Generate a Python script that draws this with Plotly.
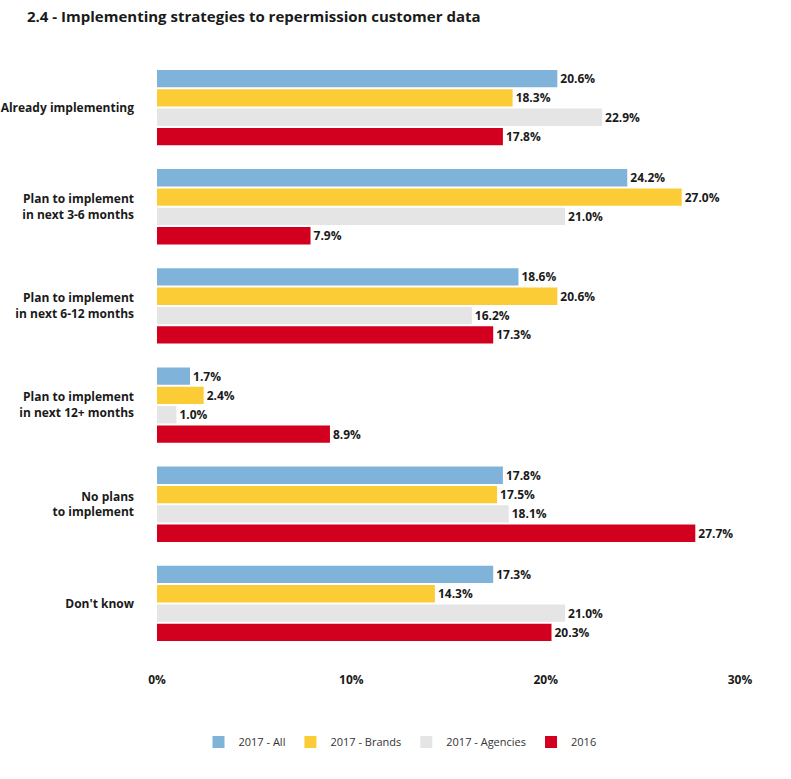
import plotly.graph_objects as go

categories = ["Already implementing", "Plan to implement<br>in next 3-6 months",
              "Plan to implement<br>in next 6-12 months", "Plan to implement<br>in next 12+ months",
              "No plans<br>to implement", "Don't know"]
series_names = ["2017 - All", "2017 - Brands", "2017 - Agencies", "2016"]
all_2017 = [20.6, 24.2, 18.6, 1.7, 17.8, 17.3]
brands_2017 = [18.3, 27.0, 20.6, 2.4, 17.5, 14.3]
agencies_2017 = [22.9, 21.0, 16.2, 1.0, 18.1, 21.0]
y2016 = [17.8, 7.9, 17.3, 8.9, 27.7, 20.3]
colors = ["#7FB3DA", "#FCCC36", "#E5E5E5", "#D2001E"]
x_ticks = [0, 10, 20, 30]
x_tick_labels = ["0%", "10%", "20%", "30%"]

FONT = "Open Sans"
fig = go.Figure()
for name, vals, col in zip(series_names, [all_2017, brands_2017, agencies_2017, y2016], colors):
    fig.add_trace(go.Bar(
        y=categories, x=vals, name=name, orientation="h",
        marker=dict(color=col, line=dict(width=0)),
        texttemplate="%{x:.1f}%", textposition="outside",
        textfont=dict(family=FONT, size=12, color="#1a1a1a", weight="bold"),
        cliponaxis=False,
    ))

fig.update_layout(
    width=791, height=779,
    barmode="group", bargap=0.22, bargroupgap=0.1,
    plot_bgcolor="white", paper_bgcolor="white",
    margin=dict(l=157, r=51, t=58, b=126, autoexpand=False),
    title=dict(text="<b>2.4 - Implementing strategies to repermission customer data</b>",
               x=27/791, xanchor="left", y=1 - 17/779, yanchor="middle",
               font=dict(family=FONT, size=15, color="#1a1a1a")),
    xaxis=dict(range=[0, 30], tickvals=x_ticks, ticktext=x_tick_labels,
               showgrid=False, zeroline=False, showline=False, ticks="",
               ticklabelstandoff=18, automargin=False,
               tickfont=dict(family=FONT, size=12, color="#1a1a1a", weight="bold")),
    yaxis=dict(autorange="reversed", showgrid=False, zeroline=False, showline=False,
               ticks="", ticklabelstandoff=22, automargin=False,
               tickfont=dict(family=FONT, size=12, color="#1a1a1a", weight="bold")),
    legend=dict(orientation="h", x=400/791, xanchor="center", xref="container",
                y=1 - 742/779, yanchor="middle", yref="container",
                traceorder="normal", itemwidth=30,
                font=dict(family=FONT, size=11, color="#333333")),
    showlegend=True,
)
fig.write_html("out.html")
